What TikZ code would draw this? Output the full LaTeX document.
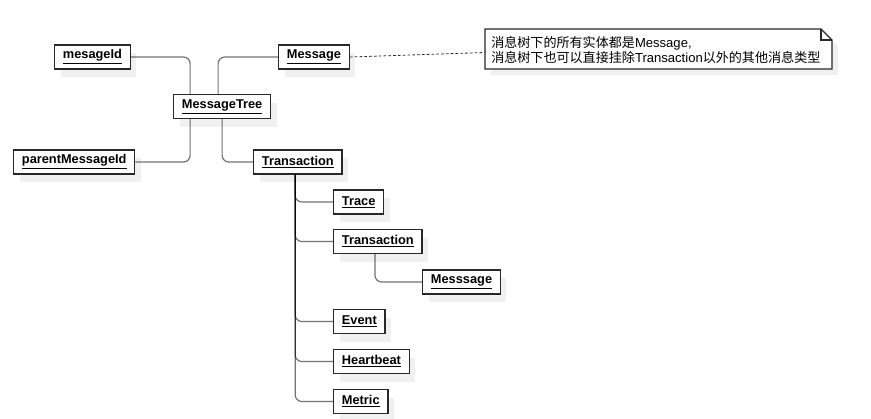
\documentclass[tikz,border=0pt]{standalone}
\usepackage{fontspec}
\setmainfont{Liberation Sans}
\newfontfamily\cjk{Noto Sans CJK SC}
\usepackage{tikz}
\usetikzlibrary{shadows}

\definecolor{boxline}{RGB}{40,40,40}
\definecolor{shadowgrey}{RGB}{240,240,240}

\tikzset{
  objbox/.style={draw=boxline, line width=1pt, fill=white, anchor=west,
    minimum height=18pt, inner xsep=6.2pt, inner ysep=0pt,
    font=\fontsize{9.6}{11}\selectfont\bfseries,
    drop shadow={shadow xshift=4.5pt, shadow yshift=-6pt, draw=none, fill=shadowgrey, opacity=1}},
  edge/.style={draw=black, draw opacity=0.55, line width=0.9pt, rounded corners=5pt},
}

\begin{document}
\begin{tikzpicture}[x=0.75pt,y=0.75pt,yscale=-1,xscale=1]
\useasboundingbox (0,0) rectangle (871,418);

%Shape: Note
\fill [shadowgrey] (491,35) -- (827,35) -- (838,46) -- (838,75) -- (491,75) -- cycle ;
\draw [color=boxline, line width=0.9pt, fill=white] (485,29) -- (821,29) -- (832,40) -- (832,69) -- (485,69) -- cycle ;
\draw [color=boxline, line width=0.9pt] (821,29) -- (821,40) -- (832,40) ;
\coordinate (noteleft) at (485,52.5);
% Text Node
\node (notetext) at (491,36) [anchor=north west, inner sep=0pt, align=left,
  font=\fontsize{9.8}{9.2}\selectfont]
  {{\cjk 消息树下的所有实体都是}Message,\\{\cjk 消息树下也可以直接挂除}Transaction{\cjk 以外的其他消息类型}};

% Object boxes
\node [objbox] (mesageid) at (54,57) {\underline{mesageId}};
\node [objbox] (message) at (278,57) {\underline{Message}};
\node [objbox] (tree) at (173,106.5) {\underline{MessageTree}};
\node [objbox] (parentid) at (13,162) {\underline{parentMessageId}};
\node [objbox] (tx) at (253,162) {\underline{Transaction}};
\node [objbox] (trace) at (333,202) {\underline{Trace}};
\node [objbox] (subtx) at (333,241.5) {\underline{Transaction}};
\node [objbox] (submsg) at (422,282) {\underline{Messsage}};
\node [objbox] (event) at (333,321.5) {\underline{Event}};
\node [objbox] (heartbeat) at (333,361.5) {\underline{Heartbeat}};
\node [objbox] (metric) at (333,401.5) {\underline{Metric}};

%Straight Lines: tree links
\draw [edge] (mesageid.east) -| ([xshift=-24pt]tree.north) ;
\draw [edge] (message.west) -| ([xshift=-3pt]tree.north) ;
\draw [edge] (parentid.east) -| ([xshift=-24pt]tree.south) ;
\draw [edge] (tx.west) -| (tree.south) ;
\foreach \child in {trace,subtx,event,heartbeat,metric}
  \draw [edge] ([xshift=-2pt]tx.south) |- (\child.west) ;
\draw [edge] ([xshift=31.5pt]subtx.south west) |- (submsg.west) ;

%Dashed Line to note
\draw [color=boxline, line width=0.6pt, dash pattern=on 2pt off 1.6pt] (message.east) -- (noteleft) ;

\end{tikzpicture}
\end{document}
